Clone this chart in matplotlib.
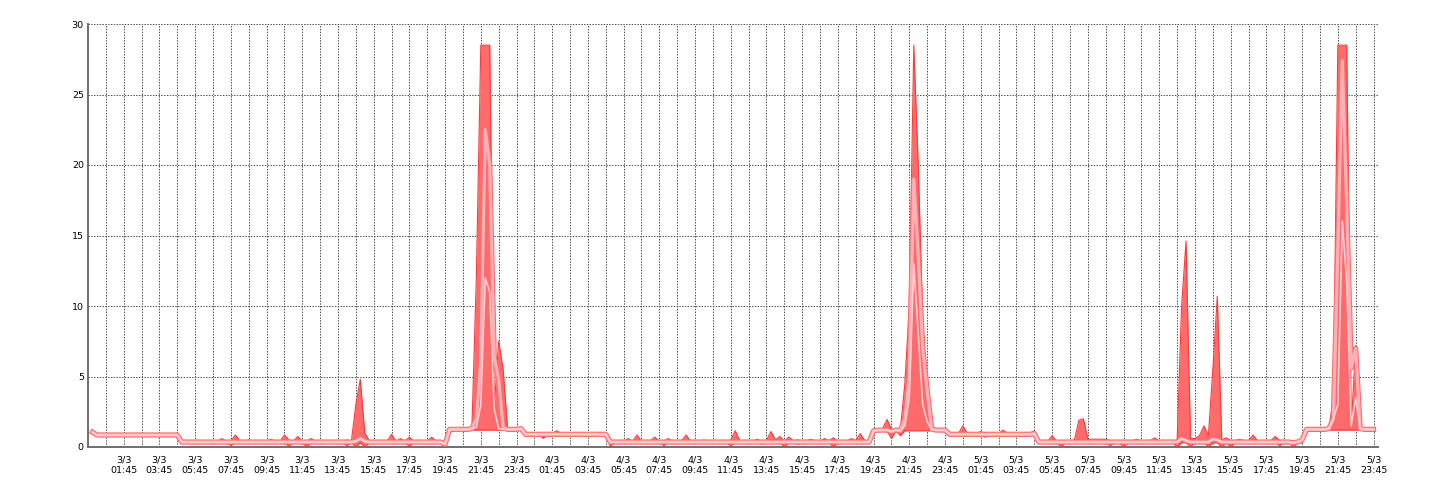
import matplotlib
matplotlib.use("Agg")
import matplotlib.pyplot as plt
import pandas as pd

# 15-minute samples, 3/3 00:00 .. 5/3 23:45 (one row = 2 hours)
times = pd.date_range("2024-03-03 00:00", periods=288, freq="15min")

max_vals = [
    1.2, 0.9, 0.9, 0.9, 0.9, 0.9, 0.9, 0.9,          # 00-02
    0.9, 0.9, 0.9, 0.9, 0.95, 0.9, 0.9, 0.9,         # 02-04
    0.9, 0.9, 0.9, 0.9, 0.4, 0.4, 0.4, 0.4,          # 04-06
    0.4, 0.4, 0.4, 0.4, 0.4, 0.6, 0.4, 0.4,          # 06-08
    0.85, 0.45, 0.4, 0.5, 0.4, 0.4, 0.4, 0.4,        # 08-10
    0.55, 0.4, 0.4, 0.85, 0.5, 0.4, 0.75, 0.4,       # 10-12
    0.4, 0.6, 0.4, 0.45, 0.4, 0.4, 0.4, 0.4,         # 12-14
    0.4, 0.5, 0.4, 3.0, 4.8, 1.0, 0.45, 0.45,        # 14-16
    0.45, 0.45, 0.4, 0.9, 0.4, 0.6, 0.4, 0.7,        # 16-18
    0.4, 0.4, 0.4, 0.4, 0.7, 0.4, 0.4, 0.3,          # 18-20
    1.35, 1.3, 1.3, 1.3, 1.3, 1.3, 12.0, 28.5,       # 20-22
    28.5, 28.5, 2.8, 7.5, 5.5, 1.35, 1.3, 1.3,       # 22-24
    1.4, 0.95, 0.95, 0.95, 0.95, 0.95, 0.95, 0.95,   # 4/3 00-02
    1.15, 0.95, 1.0, 0.95, 0.95, 0.95, 0.95, 0.95,   # 02-04
    0.95, 0.95, 0.95, 0.95, 0.4, 0.4, 0.4, 0.4,      # 04-06
    0.6, 0.4, 0.85, 0.4, 0.4, 0.45, 0.7, 0.4,        # 06-08
    0.4, 0.6, 0.4, 0.4, 0.45, 0.85, 0.4, 0.4,        # 08-10
    0.4, 0.5, 0.4, 0.4, 0.4, 0.4, 0.4, 0.5,          # 10-12
    1.15, 0.45, 0.4, 0.4, 0.45, 0.55, 0.4, 0.45,     # 12-14
    1.1, 0.5, 0.75, 0.4, 0.7, 0.45, 0.5, 0.4,        # 14-16
    0.45, 0.55, 0.4, 0.4, 0.6, 0.45, 0.65, 0.4,      # 16-18
    0.45, 0.4, 0.6, 0.45, 0.95, 0.45, 0.4, 1.25,     # 18-20
    1.25, 1.3, 1.95, 1.25, 1.25, 1.25, 4.5, 10.0,    # 20-22
    28.5, 20.0, 9.0, 4.0, 1.3, 1.25, 1.25, 1.3,      # 22-24
    0.95, 0.95, 0.95, 1.5, 0.95, 0.95, 0.95, 1.1,    # 5/3 00-02
    0.95, 0.95, 0.95, 0.95, 1.2, 0.95, 0.95, 0.95,   # 02-04
    0.95, 0.95, 0.95, 1.15, 0.4, 0.45, 0.4, 0.8,     # 04-06
    0.4, 0.4, 0.4, 0.45, 0.5, 1.9, 2.0, 0.55,        # 06-08
    0.55, 0.55, 0.55, 0.55, 0.45, 0.4, 0.4, 0.4,     # 08-10
    0.4, 0.45, 0.55, 0.4, 0.4, 0.45, 0.65, 0.4,      # 10-12
    0.4, 0.45, 0.4, 0.5, 10.0, 14.6, 0.6, 0.6,       # 12-14
    0.8, 1.5, 0.8, 5.5, 10.7, 0.5, 0.65, 0.45,       # 14-16
    0.45, 0.55, 0.45, 0.45, 0.85, 0.45, 0.45, 0.45,  # 16-18
    0.45, 0.75, 0.45, 0.4, 0.4, 0.4, 0.4, 0.55,      # 18-20
    1.3, 1.3, 1.3, 1.3, 1.3, 1.3, 3.5, 28.5,         # 20-22
    28.5, 28.5, 1.5, 7.2, 1.3, 1.3, 1.3, 1.3,        # 22-24
]

avg_vals = [
    1.05, 0.85, 0.85, 0.85, 0.85, 0.85, 0.85, 0.85,
    0.85, 0.85, 0.85, 0.85, 0.85, 0.85, 0.85, 0.85,
    0.85, 0.85, 0.85, 0.85, 0.35, 0.35, 0.35, 0.35,
    0.35, 0.35, 0.35, 0.35, 0.35, 0.35, 0.35, 0.35,
    0.35, 0.35, 0.35, 0.35, 0.35, 0.35, 0.35, 0.35,
    0.35, 0.35, 0.35, 0.35, 0.35, 0.35, 0.35, 0.35,
    0.35, 0.35, 0.35, 0.35, 0.35, 0.35, 0.35, 0.35,
    0.35, 0.35, 0.35, 0.4, 0.6, 0.4, 0.35, 0.35,
    0.35, 0.35, 0.35, 0.35, 0.35, 0.35, 0.35, 0.35,
    0.35, 0.35, 0.35, 0.35, 0.35, 0.35, 0.35, 0.2,
    1.25, 1.25, 1.25, 1.25, 1.25, 1.3, 2.0, 6.0,
    22.5, 20.0, 6.4, 4.8, 1.4, 1.25, 1.25, 1.25,
    1.3, 0.9, 0.9, 0.9, 0.9, 0.9, 0.9, 0.9,
    0.9, 0.9, 0.9, 0.9, 0.9, 0.9, 0.9, 0.9,
    0.9, 0.9, 0.9, 0.9, 0.35, 0.35, 0.35, 0.35,
    0.35, 0.35, 0.35, 0.35, 0.35, 0.35, 0.35, 0.35,
    0.35, 0.35, 0.35, 0.35, 0.35, 0.35, 0.35, 0.35,
    0.35, 0.35, 0.35, 0.35, 0.35, 0.35, 0.35, 0.35,
    0.35, 0.35, 0.35, 0.35, 0.35, 0.35, 0.35, 0.35,
    0.35, 0.35, 0.35, 0.35, 0.35, 0.35, 0.35, 0.35,
    0.35, 0.35, 0.35, 0.35, 0.35, 0.35, 0.35, 0.35,
    0.35, 0.35, 0.35, 0.35, 0.35, 0.35, 0.35, 1.15,
    1.2, 1.2, 1.2, 1.1, 1.2, 1.15, 2.0, 5.0,
    19.0, 13.5, 7.0, 4.0, 1.3, 1.2, 1.2, 1.2,
    0.9, 0.9, 0.9, 0.9, 0.9, 0.9, 0.9, 0.9,
    0.9, 0.9, 0.9, 0.9, 0.9, 0.9, 0.9, 0.9,
    0.9, 0.9, 0.9, 0.95, 0.35, 0.35, 0.35, 0.35,
    0.35, 0.35, 0.35, 0.35, 0.35, 0.35, 0.35, 0.35,
    0.35, 0.35, 0.35, 0.35, 0.35, 0.35, 0.35, 0.35,
    0.35, 0.35, 0.35, 0.35, 0.35, 0.35, 0.35, 0.35,
    0.35, 0.35, 0.35, 0.35, 0.6, 0.45, 0.35, 0.35,
    0.35, 0.35, 0.35, 0.55, 0.5, 0.35, 0.35, 0.35,
    0.35, 0.35, 0.35, 0.35, 0.35, 0.35, 0.35, 0.35,
    0.35, 0.35, 0.35, 0.35, 0.35, 0.3, 0.35, 0.5,
    1.25, 1.25, 1.25, 1.25, 1.25, 1.3, 2.0, 14.0,
    27.4, 17.0, 5.6, 7.0, 1.3, 1.25, 1.25, 1.25,
]

min_vals = [
    1.0, 0.8, 0.8, 0.8, 0.78, 0.8, 0.8, 0.8,
    0.8, 0.8, 0.8, 0.8, 0.8, 0.8, 0.8, 0.8,
    0.8, 0.8, 0.8, 0.8, 0.3, 0.3, 0.3, 0.3,
    0.3, 0.3, 0.3, 0.3, 0.3, 0.3, 0.3, 0.1,
    0.3, 0.3, 0.25, 0.3, 0.3, 0.3, 0.3, 0.3,
    0.3, 0.3, 0.3, 0.3, 0.05, 0.3, 0.3, 0.3,
    0.0, 0.3, 0.3, 0.3, 0.3, 0.3, 0.3, 0.3,
    0.3, 0.1, 0.3, 0.0, 0.3, 0.0, 0.3, 0.3,
    0.3, 0.3, 0.3, 0.3, 0.3, 0.3, 0.3, 0.05,
    0.3, 0.3, 0.3, 0.3, 0.3, 0.3, 0.3, 0.0,
    1.2, 1.2, 1.2, 1.2, 1.2, 1.2, 1.2, 1.2,
    1.2, 1.2, 1.2, 1.2, 1.2, 1.2, 1.2, 1.2,
    1.2, 0.85, 0.85, 0.85, 0.85, 0.62, 0.85, 0.85,
    0.85, 0.85, 0.85, 0.85, 0.85, 0.85, 0.85, 0.75,
    0.85, 0.85, 0.85, 0.85, 0.05, 0.3, 0.3, 0.3,
    0.3, 0.3, 0.3, 0.3, 0.3, 0.3, 0.3, 0.3,
    0.1, 0.3, 0.3, 0.3, 0.3, 0.3, 0.3, 0.3,
    0.3, 0.3, 0.3, 0.3, 0.3, 0.3, 0.3, 0.1,
    0.3, 0.3, 0.3, 0.3, 0.3, 0.3, 0.2, 0.3,
    0.3, 0.3, 0.3, 0.0, 0.3, 0.3, 0.2, 0.3,
    0.3, 0.3, 0.3, 0.3, 0.3, 0.3, 0.0, 0.3,
    0.3, 0.3, 0.3, 0.3, 0.3, 0.3, 0.3, 1.1,
    1.15, 1.15, 1.15, 0.6, 1.15, 0.8, 1.15, 1.15,
    1.15, 1.15, 1.15, 1.15, 1.15, 1.15, 1.15, 1.15,
    0.85, 0.85, 0.85, 0.85, 0.85, 0.85, 0.85, 0.85,
    0.7, 0.85, 0.85, 0.85, 0.85, 0.75, 0.85, 0.85,
    0.85, 0.75, 0.85, 0.85, 0.3, 0.3, 0.3, 0.3,
    0.3, 0.0, 0.3, 0.3, 0.3, 0.3, 0.3, 0.3,
    0.3, 0.3, 0.3, 0.3, 0.1, 0.3, 0.3, 0.0,
    0.3, 0.3, 0.3, 0.3, 0.3, 0.3, 0.3, 0.3,
    0.3, 0.3, 0.3, 0.0, 0.3, 0.3, 0.0, 0.3,
    0.3, 0.3, 0.0, 0.3, 0.3, 0.0, 0.3, 0.0,
    0.3, 0.3, 0.3, 0.3, 0.3, 0.3, 0.3, 0.3,
    0.3, 0.3, 0.1, 0.3, 0.3, 0.0, 0.3, 0.3,
    1.2, 1.2, 1.2, 1.2, 1.2, 1.2, 1.2, 1.2,
    1.2, 1.2, 1.2, 1.2, 1.2, 1.2, 1.2, 1.2,
]

# lighter inner series, only differs from the average inside the spikes
inner_vals = list(avg_vals)
inner_vals[86:93] = [1.4, 3.0, 12.0, 11.0, 2.7, 1.3, 1.25]
inner_vals[182:189] = [1.5, 3.5, 13.0, 8.0, 3.0, 1.8, 1.2]
inner_vals[279:285] = [3.0, 16.0, 11.7, 1.5, 3.5, 1.25]

y_ticks = [0, 5, 10, 15, 20, 25, 30]
grid_times = pd.date_range("2024-03-03 00:45", "2024-03-05 23:45", freq="h")
label_times = grid_times[1::2]
x_labels = [f"{t.day}/{t.month}\n{t:%H:%M}" for t in label_times]

FILL = "#FF6B6B"
EDGE = "#FF3A3A"
PINK = "#FFB0B6"
PALE = "#FFCDD1"
GRID = "#505050"

fig = plt.figure(figsize=(14.4, 5.0), dpi=100)
ax = fig.add_axes([88 / 1440, 1 - 447 / 500, (1378 - 88) / 1440, (447 - 24) / 500])

ax.fill_between(times, min_vals, max_vals, color=FILL, lw=0, zorder=2)
ax.plot(times, max_vals, color=EDGE, lw=0.8, zorder=3)
ax.plot(times, min_vals, color=EDGE, lw=0.8, zorder=3)
ax.plot(times, avg_vals, color=FILL, lw=3.8, zorder=4, solid_joinstyle="round")
ax.plot(times, avg_vals, color=PINK, lw=2.3, zorder=5, solid_joinstyle="round")
ax.plot(times, inner_vals, color=PALE, lw=1.2, zorder=6)

ax.set_xlim(pd.Timestamp("2024-03-02 23:45"), pd.Timestamp("2024-03-06 00:00"))
ax.set_ylim(0, 30)

ax.set_xticks(grid_times, minor=True)
ax.set_xticks(label_times)
ax.set_xticklabels(x_labels, fontsize=6.8, linespacing=1.3)
ax.set_yticks(y_ticks)
ax.set_yticklabels([str(v) for v in y_ticks], fontsize=6.8)
ax.tick_params(axis="both", which="both", length=0)
ax.tick_params(axis="x", pad=6)
ax.tick_params(axis="y", pad=3)

ax.set_axisbelow(True)
dots = (0, (1.4, 1.4))
ax.grid(axis="y", color=GRID, lw=0.72, linestyle=dots)
ax.grid(axis="x", which="both", color=GRID, lw=0.72, linestyle=dots)

for side in ("top", "right"):
    ax.spines[side].set_visible(False)
for side in ("left", "bottom"):
    ax.spines[side].set_color("#707070")
    ax.spines[side].set_linewidth(1.4)

fig.savefig("out.png", dpi=100, facecolor="white")
